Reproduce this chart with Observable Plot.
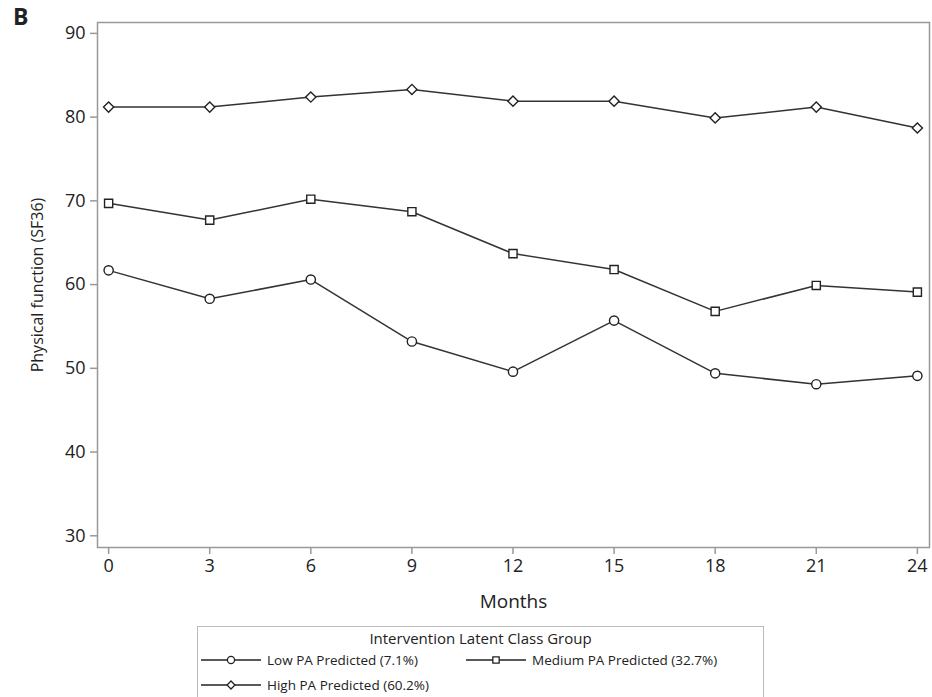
<!DOCTYPE html>
<html>
<head>
<meta charset="utf-8">
<script src="https://cdn.jsdelivr.net/npm/d3@7"></script>
<script src="https://cdn.jsdelivr.net/npm/@observablehq/plot@0.6"></script>
<style>
  body { margin: 0; background: #fff; font-family: "Open Sans", sans-serif; }
  #wrap { position: relative; width: 932px; }
  #panel { position: absolute; left: 13px; top: 0px; font-weight: bold; font-size: 23px; color: #222; z-index: 2; }
  #legend { position: relative; margin-left: 197px; margin-top: 6px; width: 567px; height: 80px; border: 1px solid #bbb; box-sizing: border-box; font-size: 13.5px; color: #222; }
  #legend .title { text-align: center; font-size: 15px; line-height: 20px; padding-top: 1px; }
  #legend .item { position: absolute; display: flex; align-items: center; white-space: nowrap; line-height: 16px; }
  #legend svg { display: block; }
  #err { color: red; font-size: 12px; }
</style>
</head>
<body>
<div id="wrap">
  <div id="panel">B</div>
  <div id="chart"></div>
  <div id="legend"><div class="title">Intervention Latent Class Group</div></div>
  <div id="err"></div>
</div>
<script>
const months = [0, 3, 6, 9, 12, 15, 18, 21, 24];
const lowPA = [61.7, 58.3, 60.6, 53.2, 49.6, 55.7, 49.4, 48.1, 49.1];
const mediumPA = [69.7, 67.7, 70.2, 68.7, 63.7, 61.8, 56.8, 59.9, 59.1];
const highPA = [81.2, 81.2, 82.4, 83.3, 81.9, 81.9, 79.9, 81.2, 78.7];
const seriesNames = ["Low PA Predicted (7.1%)", "Medium PA Predicted (32.7%)", "High PA Predicted (60.2%)"];
const seriesSymbols = ["circle", "square", "diamond2"];
const yTicks = [30, 40, 50, 60, 70, 80, 90];

try {
const series = [lowPA, mediumPA, highPA];
const data = [];
series.forEach((vals, si) => vals.forEach((v, i) => data.push({month: months[i], value: v, group: seriesNames[si]})));

const axisColor = "#999";
const chart = Plot.plot({
  width: 932,
  height: 620,
  marginTop: 22,
  marginLeft: 97,
  marginRight: 3,
  marginBottom: 73,
  style: {fontFamily: "'Open Sans', sans-serif", color: "#222", background: "#fff"},
  x: {domain: [-0.33, 24.36], ticks: months},
  y: {domain: [28.6, 91.3], ticks: yTicks},
  symbol: {domain: seriesNames, range: seriesSymbols},
  marks: [
    Plot.frame({stroke: axisColor, strokeWidth: 1.5}),
    Plot.axisX({ticks: months, tickSize: 7, tickPadding: 5, stroke: axisColor, strokeWidth: 1.5, fill: "#222",
      label: "Months", labelAnchor: "center", labelOffset: 60, labelArrow: "none"}),
    Plot.axisY({ticks: yTicks, tickSize: 7, tickPadding: 5, stroke: axisColor, strokeWidth: 1.5, fill: "#222",
      label: "Physical function (SF36)", labelAnchor: "center", labelOffset: 66, labelArrow: "none"}),
    Plot.line(data, {x: "month", y: "value", z: "group", stroke: "#333", strokeWidth: 1.5}),
    Plot.dot(data, {x: "month", y: "value", symbol: "group", r: 4.6, fill: "white", stroke: "#222", strokeWidth: 1.4})
  ]
});
document.getElementById("chart").appendChild(chart);
chart.querySelectorAll("g[aria-label='x-axis tick label'], g[aria-label='y-axis tick label'], g[aria-label='x-axis tick label'] text, g[aria-label='y-axis tick label'] text").forEach(t => t.setAttribute("font-size", "18"));
chart.querySelectorAll("g[aria-label='x-axis label'], g[aria-label='x-axis label'] text").forEach(t => t.setAttribute("font-size", "19"));
chart.querySelectorAll("g[aria-label='y-axis label'], g[aria-label='y-axis label'] text").forEach(t => t.setAttribute("font-size", "16"));

// legend swatches
const legend = document.getElementById("legend");
const positions = [{left: 3, top: 25}, {left: 268, top: 25}, {left: 3, top: 50}];
const symbolMap = {circle: d3.symbolCircle, square: d3.symbolSquare, diamond2: d3.symbolDiamond2};
seriesNames.forEach((name, i) => {
  const item = document.createElement("div");
  item.className = "item";
  item.style.left = positions[i].left + "px";
  item.style.top = positions[i].top + "px";
  const svg = d3.create("svg").attr("width", 60).attr("height", 16);
  svg.append("line").attr("x1", 0).attr("x2", 60).attr("y1", 8).attr("y2", 8).attr("stroke", "#222").attr("stroke-width", 1.3);
  svg.append("path").attr("transform", "translate(30,8)")
    .attr("d", d3.symbol(symbolMap[seriesSymbols[i]], 40)())
    .attr("fill", "white").attr("stroke", "#222").attr("stroke-width", 1.3);
  item.appendChild(svg.node());
  const label = document.createElement("span");
  label.textContent = name;
  label.style.marginLeft = "6px";
  item.appendChild(label);
  legend.appendChild(item);
});
} catch (e) { document.getElementById("err").textContent = e.message; }
</script>
</body>
</html>
